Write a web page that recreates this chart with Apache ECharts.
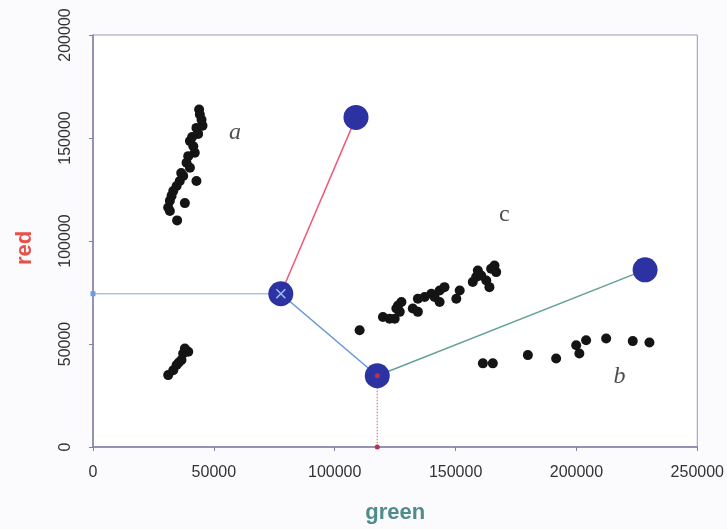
<!DOCTYPE html>
<html>
<head>
<meta charset="utf-8">
<script src="https://cdn.jsdelivr.net/npm/echarts@6/dist/echarts.min.js"></script>
<style>
  html, body { margin: 0; padding: 0; background: #fbfbfd; }
  #chart { width: 727px; height: 529px; }
</style>
</head>
<body>
<div id="chart"></div>
<script>
// black sample points, [green, red]
const clusterA = [
  [43900, 163800], [44200, 161400], [44900, 158900], [45300, 156000], [42800, 154900],
  [43500, 152000], [40100, 148500], [41500, 146000], [42100, 142800], [39400, 141200],
  [38700, 138000], [40100, 135600], [42800, 129100], [37300, 131600], [35900, 129100],
  [34600, 126700], [33200, 124300], [32500, 121900], [31800, 119500], [31100, 116300],
  [31800, 114600], [38000, 118400], [34800, 110000], [36500, 133000], [41000, 150500]
];
const clusterLow = [
  [31100, 34900], [33200, 37300], [34600, 39800], [36600, 42200],
  [37300, 45400], [39400, 46200], [38000, 47800], [35500, 41000]
];
const clusterC = [
  [110300, 56700], [119950, 63100], [122700, 62300], [124800, 62300], [126900, 65600],
  [126200, 68700], [127600, 70400], [132300, 67200], [134400, 65600], [134400, 72000],
  [137200, 72800], [140000, 74400], [141300, 72800], [143400, 70400], [143400, 76000],
  [145400, 77600], [150300, 72000], [151700, 76000], [157100, 80100], [158500, 82500],
  [159200, 85700], [160600, 83200], [162700, 80800], [164000, 77600], [164700, 86500],
  [166100, 88100], [166800, 84900], [125500, 67200]
];
const clusterB = [
  [161300, 40600], [165400, 40600], [179900, 44600], [191600, 43000], [199900, 49400],
  [201200, 45400], [204000, 51800], [212300, 52700], [223300, 51400], [230200, 50700]
];
// group centres
const centreA = [108800, 160000];
const centreX = [77700, 74400];
const centreLow = [117600, 34600];
const centreB = [228400, 86000];

const groupLabels = [
  { name: 'a', value: [58700, 152700], italic: true },
  { name: 'c', value: [170200, 112600], italic: false },
  { name: 'b', value: [217800, 34300], italic: true }
];

const xTicks = [0, 50000, 100000, 150000, 200000, 250000];
const yTicks = [0, 50000, 100000, 150000, 200000];

const chart = echarts.init(document.getElementById('chart'));

const seg = (a, b, color, type) => ({
  type: 'line',
  data: [a, b],
  symbol: 'none',
  silent: true,
  z: 2,
  lineStyle: { color: color, width: 1.5, type: type || 'solid' }
});

const option = {
  backgroundColor: '#fbfbfd',
  animation: false,
  grid: {
    left: 93, right: 29, top: 35, bottom: 80,
    show: true, backgroundColor: '#ffffff',
    borderColor: '#9898bc', borderWidth: 1
  },
  xAxis: {
    type: 'value',
    min: xTicks[0], max: xTicks[xTicks.length - 1], interval: 50000,
    name: 'green', nameLocation: 'middle', nameGap: 55,
    nameTextStyle: { color: '#4f8c8c', fontSize: 22, fontWeight: 'bold', fontFamily: 'Liberation Sans' },
    axisLine: { show: true, lineStyle: { color: '#8080a8', width: 1.5 } },
    axisTick: { show: true, length: 4, lineStyle: { color: '#8080a8' } },
    splitLine: { show: false },
    axisLabel: { color: '#333', fontSize: 16, fontFamily: 'Liberation Sans', margin: 18, formatter: v => String(v) }
  },
  yAxis: {
    type: 'value',
    min: yTicks[0], max: yTicks[yTicks.length - 1], interval: 50000,
    name: 'red', nameLocation: 'middle', nameGap: 57, nameRotate: 90,
    nameTextStyle: { color: '#e8504a', fontSize: 22, fontWeight: 'bold', fontFamily: 'Liberation Sans', padding: [0, 14, 0, 0] },
    axisLine: { show: true, lineStyle: { color: '#8080a8', width: 1.5 } },
    axisTick: { show: true, length: 4, lineStyle: { color: '#8080a8' } },
    splitLine: { show: false },
    axisLabel: { color: '#333', fontSize: 16, fontFamily: 'Liberation Sans', rotate: 90, margin: 19, formatter: v => String(v) }
  },
  series: [
    seg([0, centreX[1]], centreX, '#aac4ee'),
    seg(centreLow, [centreLow[0], 0], '#d890a8', 'dotted'),
    seg(centreX, centreA, '#ec5a78'),
    seg(centreX, centreLow, '#6596d8'),
    seg(centreLow, centreB, '#62a296'),
    {
      type: 'scatter',
      data: [].concat(clusterA, clusterLow, clusterC, clusterB),
      symbolSize: 10,
      z: 3,
      itemStyle: { color: '#141414', opacity: 1 }
    },
    {
      type: 'scatter',
      data: [centreA, centreX, centreLow, centreB],
      symbolSize: 25,
      z: 4,
      itemStyle: { color: '#2c32a2', opacity: 1 }
    },
    {
      type: 'scatter',
      data: [centreX],
      symbol: 'path://M0,0L10,10M10,0L0,10',
      symbolSize: 9,
      z: 5,
      itemStyle: { color: 'none', borderColor: '#9cc0f0', borderWidth: 1.5, opacity: 1 }
    },
    {
      type: 'scatter',
      data: [centreLow, [centreLow[0], 0]],
      symbolSize: 5,
      z: 5,
      clip: false,
      itemStyle: { color: '#c03048', opacity: 1 }
    },
    {
      type: 'scatter',
      data: [[0, centreX[1]]],
      symbol: 'rect',
      symbolSize: 5,
      z: 5,
      clip: false,
      itemStyle: { color: '#6c9ce0', opacity: 1 }
    },
    {
      type: 'scatter',
      data: groupLabels.map(d => ({
        name: d.name, value: d.value,
        label: { fontStyle: d.italic ? 'italic' : 'normal' }
      })),
      symbolSize: 0,
      z: 6,
      label: {
        show: true, position: 'inside', formatter: '{b}',
        fontFamily: 'Liberation Serif', fontSize: 24, color: '#222'
      }
    }
  ]
};

chart.setOption(option);
</script>
</body>
</html>
